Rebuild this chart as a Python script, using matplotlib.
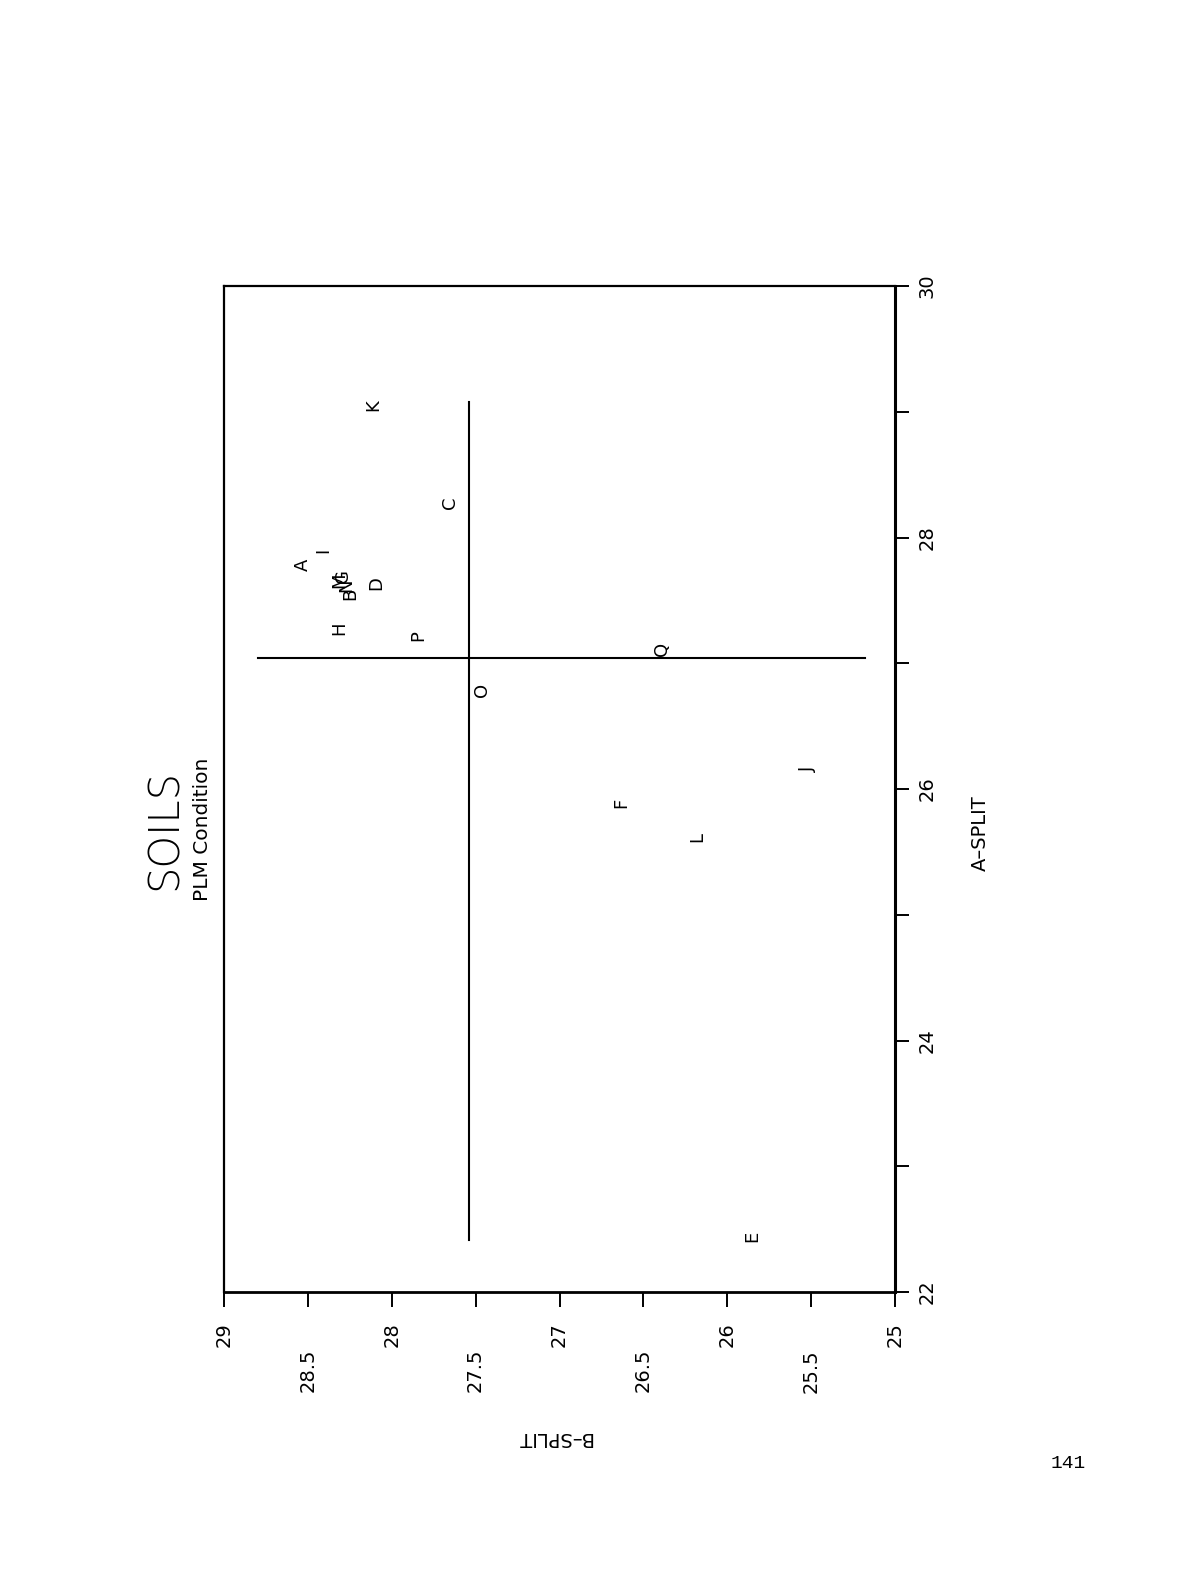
import matplotlib
matplotlib.use("Agg")
import matplotlib.pyplot as plt
from matplotlib.ticker import FixedLocator, FixedFormatter, NullFormatter

# Sample identifiers and their split-sample results
labels = ["A", "B", "C", "D", "E", "F", "G", "H", "I", "J",
          "K", "L", "M", "N", "O", "P", "Q"]
a_split = [27.78, 27.55, 28.28, 27.64, 22.44, 25.89, 27.69, 27.28, 27.90, 26.16,
           29.05, 25.62, 27.66, 27.62, 26.79, 27.22, 27.11]
b_split = [28.53, 28.25, 27.65, 28.09, 25.85, 26.63, 28.29, 28.31, 28.41, 25.52,
           28.11, 26.18, 28.31, 28.27, 27.46, 27.84, 26.39]

# Reference cross: A-SPLIT level drawn across B range, B-SPLIT level drawn across A range
a_ref = 27.04
a_ref_b_span = [28.80, 25.18]
b_ref = 27.54
b_ref_a_span = [22.41, 29.08]

b_major = [29, 28, 27, 26, 25]
b_minor = [28.5, 27.5, 26.5, 25.5]
a_major = [22, 24, 26, 28, 30]
a_minor = [23, 25, 27, 29]

W, H = 1194, 1576
fig = plt.figure(figsize=(W / 100, H / 100), dpi=100)
fig.patch.set_facecolor("white")

# The plot is laid out turned a quarter turn: B-SPLIT runs along the bottom,
# A-SPLIT up the right side, and all text reads sideways.
ax = fig.add_axes([224 / W, 1 - 1292 / H, 671 / W, 1006 / H])
ax.set_xlim(29, 25)
ax.set_ylim(22, 30)

for s in ax.spines.values():
    s.set_linewidth(1.6)
    s.set_color("black")
ax.spines["right"].set_linewidth(2.2)
ax.spines["bottom"].set_linewidth(2.0)

# B-SPLIT axis (bottom), staggered labels
ax.xaxis.set_major_locator(FixedLocator(b_major))
ax.xaxis.set_major_formatter(FixedFormatter([f"{v:g}" for v in b_major]))
ax.xaxis.set_minor_locator(FixedLocator(b_minor))
ax.xaxis.set_minor_formatter(FixedFormatter([f"{v:g}" for v in b_minor]))
ax.tick_params(axis="x", which="both", direction="out", length=11, width=1.4,
               labelsize=14, labelrotation=90, bottom=True, top=False)
ax.tick_params(axis="x", which="major", pad=11)
ax.tick_params(axis="x", which="minor", pad=30)

# A-SPLIT axis (right)
ax.yaxis.tick_right()
ax.yaxis.set_major_locator(FixedLocator(a_major))
ax.yaxis.set_major_formatter(FixedFormatter([f"{v:g}" for v in a_major]))
ax.yaxis.set_minor_locator(FixedLocator(a_minor))
ax.yaxis.set_minor_formatter(NullFormatter())
ax.tick_params(axis="y", which="both", direction="out", length=10, width=1.4,
               labelsize=14, labelrotation=90, right=True, left=False, pad=6)
for t in ax.get_yticklabels():
    t.set_verticalalignment("center")

# Reference cross lines
ax.plot(a_ref_b_span, [a_ref, a_ref], color="black", lw=1.5)
ax.plot([b_ref, b_ref], b_ref_a_span, color="black", lw=1.5)

# Sample letters as markers
for lab, a, b in zip(labels, a_split, b_split):
    ax.text(b, a, lab, rotation=90, ha="center", va="center",
            fontsize=13, color="black")

# Titles and axis names
fig.text(164 / W, 1 - 829 / H, "SOILS", rotation=90, ha="center", va="center",
         fontsize=30, fontweight="light", color="black")
fig.text(202 / W, 1 - 829 / H, "PLM Condition", rotation=90, ha="center",
         va="center", fontsize=14.5, color="black")
fig.text(980 / W, 1 - 833 / H, "A–SPLIT", rotation=90, ha="center",
         va="center", fontsize=14, color="black")
fig.text(554 / W, 1 - 1437 / H, "B–SPLIT", rotation=180, ha="center",
         va="center", fontsize=14, color="black")

# Page number
fig.text(1068 / W, 1 - 1464 / H, "141", ha="center", va="center",
         fontsize=14, family="Liberation Mono", color="black")

fig.savefig("out.png", dpi=100, facecolor="white")
